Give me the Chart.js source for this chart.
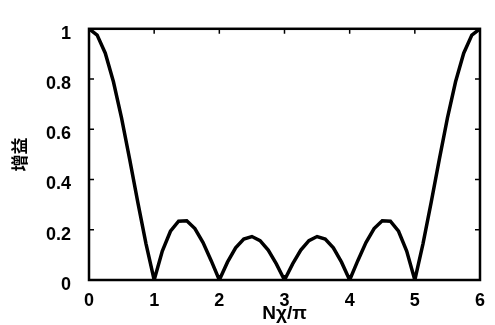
<!DOCTYPE html>
<html>
<head>
<meta charset="utf-8">
<script src="https://cdn.jsdelivr.net/npm/chart.js@4/dist/chart.umd.min.js"></script>
<style>
  html, body { margin: 0; padding: 0; background: #fff; }
  #wrap { width: 495px; height: 325px; }
</style>
</head>
<body>
<div id="wrap"><canvas id="gainChart"></canvas></div>
<script>
// Nχ/π positions and gain
const xValues = [0, 0.125, 0.25, 0.375, 0.5, 0.625, 0.75, 0.875,
  1, 1.125, 1.25, 1.375, 1.5, 1.625, 1.75, 1.875,
  2, 2.125, 2.25, 2.375, 2.5, 2.625, 2.75, 2.875,
  3, 3.125, 3.25, 3.375, 3.5, 3.625, 3.75, 3.875,
  4, 4.125, 4.25, 4.375, 4.5, 4.625, 4.75, 4.875,
  5, 5.125, 5.25, 5.375, 5.5, 5.625, 5.75, 5.875, 6];
const gainValues = [1, 0.975, 0.903, 0.789, 0.644, 0.479, 0.308, 0.144,
  0, 0.115, 0.194, 0.234, 0.236, 0.205, 0.149, 0.077,
  0, 0.071, 0.128, 0.163, 0.173, 0.157, 0.119, 0.064,
  0, 0.064, 0.119, 0.157, 0.173, 0.163, 0.128, 0.071,
  0, 0.077, 0.149, 0.205, 0.236, 0.234, 0.194, 0.115,
  0, 0.144, 0.308, 0.479, 0.644, 0.789, 0.903, 0.975, 1];
const xTicks = [0, 1, 2, 3, 4, 5, 6];
const yTicks = [0, 0.2, 0.4, 0.6, 0.8, 1];
const yTickLabels = ['0', '0.2', '0.4', '0.6', '0.8', '1'];

const points = xValues.map((x, i) => ({ x: x, y: gainValues[i] }));

// box round the plot with short inward ticks on every side
const frame = {
  id: 'frame',
  afterDatasetsDraw(chart) {
    const ctx = chart.ctx;
    const a = chart.chartArea;
    const sx = chart.scales.x, sy = chart.scales.y;
    const len = 5;
    ctx.save();
    ctx.strokeStyle = '#000';
    ctx.lineWidth = 2.5;
    ctx.strokeRect(a.left, a.top, a.right - a.left, a.bottom - a.top);
    ctx.lineWidth = 1.5;
    ctx.beginPath();
    xTicks.forEach(v => {
      const px = sx.getPixelForValue(v);
      ctx.moveTo(px, a.bottom); ctx.lineTo(px, a.bottom - len);
      ctx.moveTo(px, a.top); ctx.lineTo(px, a.top + len);
    });
    yTicks.forEach(v => {
      const py = sy.getPixelForValue(v);
      ctx.moveTo(a.left, py); ctx.lineTo(a.left + len, py);
      ctx.moveTo(a.right, py); ctx.lineTo(a.right - len, py);
    });
    ctx.stroke();
    ctx.restore();
  }
};

const tickFont = { family: '"Liberation Sans", Arial, sans-serif', size: 18, weight: 'bold' };

new Chart(document.getElementById('gainChart'), {
  type: 'line',
  data: {
    datasets: [{
      data: points,
      borderColor: '#000',
      borderWidth: 3.5,
      pointRadius: 0,
      tension: 0,
      fill: false
    }]
  },
  options: {
    responsive: true,
    maintainAspectRatio: false,
    animation: false,
    layout: { padding: { top: 13, right: 7, left: 0, bottom: 0 } },
    plugins: { legend: { display: false }, tooltip: { enabled: false } },
    scales: {
      x: {
        type: 'linear',
        min: 0,
        max: 6,
        afterBuildTicks: axis => { axis.ticks = xTicks.map(v => ({ value: v })); },
        afterFit: axis => { axis.height = 45; },
        grid: { display: false, drawTicks: false },
        border: { display: false },
        ticks: { color: '#000', font: tickFont, padding: 10, maxRotation: 0 },
        title: {
          display: true,
          text: 'Nχ/π',
          color: '#000',
          font: { family: '"Liberation Sans", Arial, sans-serif', size: 19, weight: 'bold' },
          padding: { top: 0, bottom: 0 }
        }
      },
      y: {
        min: 0,
        max: 1,
        afterBuildTicks: axis => { axis.ticks = yTicks.map(v => ({ value: v })); },
        afterFit: axis => { axis.width = 89; },
        grid: { display: false, drawTicks: false },
        border: { display: false },
        ticks: {
          color: '#000',
          font: tickFont,
          padding: 18,
          labelOffset: 5,
          callback: (v, i) => yTickLabels[i]
        },
        title: {
          display: true,
          text: '增益',
          color: '#000',
          font: { family: '"Noto Sans CJK SC", sans-serif', size: 17, weight: 'bold' },
          padding: { top: 9, bottom: 0 }
        }
      }
    }
  },
  plugins: [frame]
});
</script>
</body>
</html>
